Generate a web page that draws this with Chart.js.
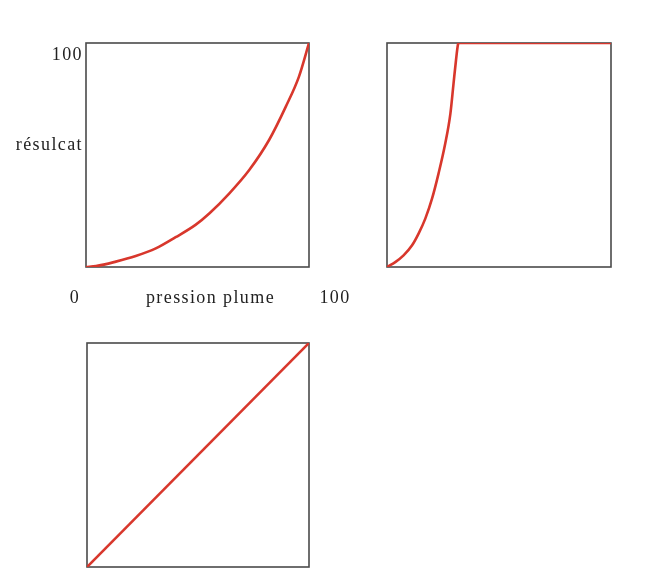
<!DOCTYPE html>
<html>
<head>
<meta charset="utf-8">
<script src="https://cdn.jsdelivr.net/npm/chart.js@4"></script>
<style>
  body { margin: 0; background: #fff; width: 665px; height: 584px; position: relative; overflow: hidden; }
  canvas { position: absolute; }
</style>
</head>
<body>
<canvas id="c1" style="left:0;top:0"></canvas>
<canvas id="c2" style="left:377px;top:33px"></canvas>
<canvas id="c3" style="left:77px;top:333px"></canvas>
<script>
// values (percent of full scale)
const pressureA = [0, 4.5, 13.4, 22.3, 31.3, 40.2, 49.1, 55.4, 64.3, 73.2, 82.1, 89.6, 95.5, 100];
const resultA   = [0, 0.4, 2.4, 4.9, 8.3, 13.3, 18.8, 24, 32.9, 43.3, 56.7, 71.6, 85, 100];

const pressureB = [0, 3.7, 7.4, 11.2, 14.1, 17.1, 20.1, 23, 26, 28.3, 29.7, 30.8, 31.7, 32, 100];
const resultB   = [0, 2.2, 5.2, 9.7, 14.9, 21.6, 30.5, 41.7, 55.1, 68.5, 81.9, 92.3, 99.4, 100, 100];

const pressureC = [0, 100];
const resultC   = [0, 100];

const axisMin = 0;
const axisMax = 100;
const yTop = '100';
const yTitle = 'résulcat';
const xStart = '0';
const xTitle = 'pression plume';
const xEnd = '100';

const lineColor = '#d8372c';
const boxColor = '#4a4a4a';

function toPoints(xs, ys) {
    return xs.map((x, i) => ({ x: x, y: ys[i] }));
}

// draw the full frame round the plot area
const frame = {
    id: 'frame',
    beforeDatasetsDraw(chart) {
        const a = chart.chartArea;
        const ctx = chart.ctx;
        ctx.save();
        ctx.strokeStyle = boxColor;
        ctx.lineWidth = 1.6;
        ctx.strokeRect(a.left, a.top, a.right - a.left, a.bottom - a.top);
        ctx.restore();
    }
};

// axis words for the first panel
const words = {
    id: 'words',
    afterDraw(chart) {
        const a = chart.chartArea;
        const ctx = chart.ctx;
        ctx.save();
        ctx.fillStyle = '#222';
        ctx.font = '18px "Liberation Serif"';
        ctx.letterSpacing = '1.4px';
        ctx.textBaseline = 'alphabetic';
        ctx.textAlign = 'right';
        ctx.fillText(yTop, a.left - 3, a.top + 17);
        ctx.fillText(yTitle, a.left - 3, a.top + 107);
        ctx.textAlign = 'center';
        ctx.fillText(xStart, a.left - 11, a.bottom + 36);
        ctx.fillText(xTitle, (a.left + a.right) / 2 + 13, a.bottom + 36);
        ctx.fillText(xEnd, a.right + 26, a.bottom + 36);
        ctx.restore();
    }
};

function makePanel(id, w, h, pad, xs, ys, extra) {
    const el = document.getElementById(id);
    el.width = w;
    el.height = h;
    el.style.width = w + 'px';
    el.style.height = h + 'px';
    const plugins = [frame];
    if (extra) plugins.push(extra);
    return new Chart(el, {
        type: 'line',
        data: {
            datasets: [{
                data: toPoints(xs, ys),
                borderColor: lineColor,
                borderWidth: 2.6,
                pointRadius: 0,
                fill: false,
                cubicInterpolationMode: 'monotone'
            }]
        },
        options: {
            responsive: false,
            animation: false,
            layout: { padding: pad },
            plugins: { legend: { display: false }, tooltip: { enabled: false } },
            scales: {
                x: { type: 'linear', min: axisMin, max: axisMax, display: false },
                y: { min: axisMin, max: axisMax, display: false }
            }
        },
        plugins: plugins
    });
}

makePanel('c1', 360, 320, { left: 86, top: 43, right: 51, bottom: 53 }, pressureA, resultA, words);
makePanel('c2', 244, 244, 10, pressureB, resultB);
makePanel('c3', 242, 244, 10, pressureC, resultC);
</script>
</body>
</html>
